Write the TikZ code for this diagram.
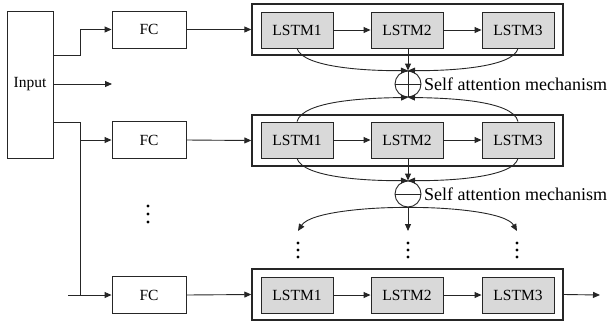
\documentclass[tikz,border=0pt]{standalone}
\usepackage{fontspec}
\setmainfont{Liberation Serif}
\usetikzlibrary{arrows.meta}
\definecolor{lstmgray}{HTML}{D9D9D9}
\definecolor{linec}{HTML}{262626}
\begin{document}
\begin{tikzpicture}[x=1pt,y=-1pt,
  plain/.style={draw=linec,line width=0.9pt,fill=white,inner sep=0pt,font=\fontsize{15.5}{17}\selectfont},
  fcbox/.style={plain,minimum width=74pt,minimum height=37pt},
  lstmbox/.style={draw=linec,line width=0.9pt,fill=lstmgray,minimum width=72pt,minimum height=36pt,inner sep=0pt,font=\fontsize{15.5}{17}\selectfont},
  outerbox/.style={draw=linec,line width=1.4pt,minimum width=311pt,minimum height=51pt,inner sep=0pt},
  sumnode/.style={draw=linec,line width=0.9pt,circle,minimum size=26pt,inner sep=0pt},
  conn/.style={draw=linec,line width=0.9pt},
  arr/.style={conn,-{Triangle[length=7pt,width=6pt]}},
  lbl/.style={font=\fontsize{18}{20}\selectfont,anchor=west,inner sep=0pt},
  dotc/.style={fill=black,draw=none}
]
\useasboundingbox (0,0) rectangle (610,322);

% input
\node[plain,minimum width=46pt,minimum height=147pt] (inp) at (30,84.5) {Input};

% FC boxes
\node[fcbox] (fc1) at (149,29.5) {FC};
\node[fcbox] (fc2) at (149,140) {FC};
\node[fcbox] (fc3) at (149,295) {FC};

% outer boxes
\node[outerbox] (ob1) at (407.5,29.5) {};
\node[outerbox] (ob2) at (407.5,140.5) {};
\node[outerbox] (ob3) at (407.5,294.5) {};

% LSTM boxes
\foreach \r/\y in {1/30,2/140,3/295}{
  \node[lstmbox] (l\r a) at (297,\y) {LSTM1};
  \node[lstmbox] (l\r b) at (407,\y) {LSTM2};
  \node[lstmbox] (l\r c) at (518,\y) {LSTM3};
  \draw[arr] (l\r a) -- (l\r b);
  \draw[arr] (l\r b) -- (l\r c);
}

% coordinates
\coordinate (j1) at (80,55);
\coordinate (j2) at (80,122);
\coordinate (j3) at (80,295);
\coordinate (mid) at (112,84);
\coordinate (fin) at (68,295);
\coordinate (out) at (600,295);

% input connectors
\draw[arr] (inp.east |- j1) -- (j1) |- (fc1.west);
\draw[arr] (inp.east |- mid) -- (mid);
\draw[conn] (inp.east |- j2) -- (j2) -- (j3);
\draw[arr] (j2 |- fc2.west) -- (fc2.west);
\draw[arr] (fin) -- (fc3.west);

% FC to LSTM groups
\draw[arr] (fc1.east) -- (ob1.west);
\draw[arr] (fc2.east) -- (ob2.west);
\draw[arr] (fc3.east) -- (ob3.west);
\draw[arr] (ob3.east) -- (out);

% attention 1
\node[sumnode] (s1) at (408,84) {};
\draw[conn] (s1.north) -- (s1.south) (s1.west) -- (s1.east);
\node[lbl] (t1) at (424,84) {Self attention mechanism};
\draw[arr] (l1b.south -| s1.north) -- (s1.north);
\draw[arr] (l1a.south) .. controls (303,68) and (370,71) .. (s1.north);
\draw[arr] (l1c.south) .. controls (513,68) and (446,71) .. (s1.north);
\draw[arr] (l2a.north) .. controls (303,100) and (370,98) .. (s1.south);
\draw[arr] (l2c.north) .. controls (513,100) and (446,98) .. (s1.south);

% attention 2
\node[sumnode] (s2) at (408,194) {};
\draw[conn] (s2.west) -- (s2.east);
\node[lbl] (t2) at (424,194) {Self attention mechanism};
\draw[arr] (l2b.south -| s2.north) -- (s2.north);
\draw[arr] (l2a.south) .. controls (303,178) and (370,181) .. (s2.north);
\draw[arr] (l2c.south) .. controls (513,178) and (446,181) .. (s2.north);

\coordinate (d1) at (298,231);
\coordinate (d2) at (408,231);
\coordinate (d3) at (517,231);
\draw[arr] (s2.south) .. controls (370,207) and (310,212) .. (d1);
\draw[arr] (s2.south) .. controls (446,207) and (506,212) .. (d3);
\draw[arr] (s2.south) -- (d2);

% dots
\foreach \x in {298,408,517}{
  \foreach \y in {243,250,257}{
    \fill[dotc] (\x,\y) circle (1.6pt);
  }
}
\foreach \y in {206,214,222}{
  \fill[dotc] (148,\y) circle (1.6pt);
}
\end{tikzpicture}
\end{document}
